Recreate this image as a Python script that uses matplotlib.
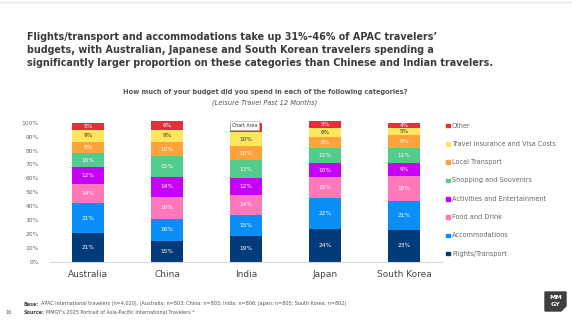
import numpy as np
import matplotlib.pyplot as plt
from matplotlib.patches import Polygon, Rectangle

plt.rcParams['font.family'] = ['DejaVu Sans']

# Data (percent of budget)
countries = ['Australia', 'China', 'India', 'Japan', 'South Korea']
categories = ['Flights/Transport', 'Accommodations', 'Food and Drink',
              'Activities and Entertainment', 'Shopping and Souvenirs',
              'Local Transport', 'Travel Insurance and Visa Costs', 'Other']
flights = [21, 15, 19, 24, 23]
accommodations = [21, 16, 15, 22, 21]
food = [14, 16, 14, 15, 18]
activities = [12, 14, 12, 10, 9]
shopping = [10, 15, 13, 11, 11]
local_transport = [8, 10, 10, 8, 9]
insurance = [9, 9, 10, 6, 5]
other = [5, 6, 7, 5, 4]

series = [flights, accommodations, food, activities, shopping,
          local_transport, insurance, other]
colors = ['#023A7A', '#0A8EF7', '#FF78BA', '#C700F7', '#52CC8C',
          '#FFA23C', '#FBE65C', '#E0313A']
label_colors = ['white', 'white', 'white', 'white', 'white', 'white', '#333333', 'white']

W, H = 572, 324
fig = plt.figure(figsize=(W / 100, H / 100), dpi=100)


def fx(x):
    return x / W


def fy(y):
    return 1 - y / H


# thin line at the very top
fig.add_artist(plt.Line2D([0, 1], [fy(1.5), fy(1.5)], color='#e6e6e6', lw=1))

title = ("Flights/transport and accommodations take up 31%\u201346% of APAC travelers\u2019\n"
         "budgets, with Australian, Japanese and South Korean travelers spending a\n"
         "significantly larger proportion on these categories than Chinese and Indian travelers.")
fig.text(fx(27), fy(32), title, fontsize=6.9, fontweight='bold', color='#3a3a3a',
         va='top', ha='left', linespacing=1.35)

fig.text(fx(265), fy(92), 'How much of your budget did you spend in each of the following categories?',
         fontsize=4.8, fontweight='bold', color='#555555', ha='center', va='center')
fig.text(fx(265), fy(103), '(Leisure Travel Past 12 Months)',
         fontsize=4.8, style='italic', color='#555555', ha='center', va='center')

# main axes
top_px, bot_px, left_px, right_px = 122.7, 262, 50, 443
ax = fig.add_axes([fx(left_px), fy(bot_px), (right_px - left_px) / W, (bot_px - top_px) / H])
x = np.arange(len(countries))
bottom = np.zeros(len(countries))
for si, (vals, col, lc) in enumerate(zip(series, colors, label_colors)):
    vals = np.array(vals, dtype=float)
    ax.bar(x, vals, width=0.4, bottom=bottom, color=col, clip_on=False)
    for xi, b, v in zip(x, bottom, vals):
        # India "Other" label is hidden under the "Chart Area" tooltip
        if si == len(series) - 1 and xi == 2:
            continue
        ax.text(xi, b + v / 2, f'{int(v)}%', ha='center', va='center',
                fontsize=4.2, color=lc)
    bottom += vals

ax.set_xlim(-0.48, 4.49)
ax.set_ylim(0, 100)
ax.set_yticks(np.arange(0, 101, 10))
ax.set_yticklabels([f'{t}%' for t in range(0, 101, 10)], fontsize=4.3, color='#666666')
ax.set_xticks(x)
ax.set_xticklabels(countries, fontsize=6.5, color='#444444')
ax.tick_params(axis='both', length=0)
ax.tick_params(axis='y', pad=8)
ax.tick_params(axis='x', pad=6)
for s in ['top', 'right', 'left']:
    ax.spines[s].set_visible(False)
ax.spines['bottom'].set_color('#d9d9d9')
ax.spines['bottom'].set_linewidth(0.8)

# "Chart Area" tooltip
ax.text(1.82, 98.0, 'Chart Area', fontsize=3.4, color='#333333', ha='left', va='center',
        bbox=dict(boxstyle='square,pad=0.4', fc='white', ec='#aaaaaa', lw=0.4),
        zorder=5)

# legend, top to bottom
for k, (cat, col) in enumerate(zip(categories[::-1], colors[::-1])):
    yy = 125.5 + 18.3 * k
    fig.add_artist(Rectangle((fx(446), fy(yy + 1.8)), 3.6 / W, 3.6 / H,
                             color=col, transform=fig.transFigure))
    fig.text(fx(452), fy(yy), cat, fontsize=4.7, color='#666666', va='center', ha='left')

# footer: bold lead-in followed by regular text
renderer = fig.canvas.get_renderer()


def footer_line(y, lead, rest):
    t = fig.text(fx(24), fy(y), lead, fontsize=3.5, fontweight='bold', color='#444444', va='center')
    w = t.get_window_extent(renderer).width
    fig.text(fx(24 + w + 1.5), fy(y), rest, fontsize=3.5, color='#555555', va='center')


footer_line(304, 'Base:', 'APAC international travelers (n=4,020), (Australia: n=803; '
            'China: n=803; India: n=806; Japan: n=805; South Korea: n=802)')
footer_line(313, 'Source:', "MMGY's 2025 Portrait of Asia-Pacific International Travelers\u2122")
fig.text(fx(5), fy(313), '16', fontsize=3.5, color='#555555', va='center')

# logo
logo = Polygon([(fx(545), fy(292)), (fx(566), fy(292)), (fx(566), fy(306)),
                (fx(561), fy(311)), (fx(545), fy(311))],
               closed=True, color='#3f3f3f', transform=fig.transFigure)
fig.add_artist(logo)
fig.text(fx(555.5), fy(297.5), 'MM', fontsize=4.6, fontweight='bold', color='white',
         ha='center', va='center')
fig.text(fx(555.5), fy(305), 'GY', fontsize=4.6, fontweight='bold', color='white',
         ha='center', va='center')

fig.savefig('out.png', dpi=100, facecolor='white')
